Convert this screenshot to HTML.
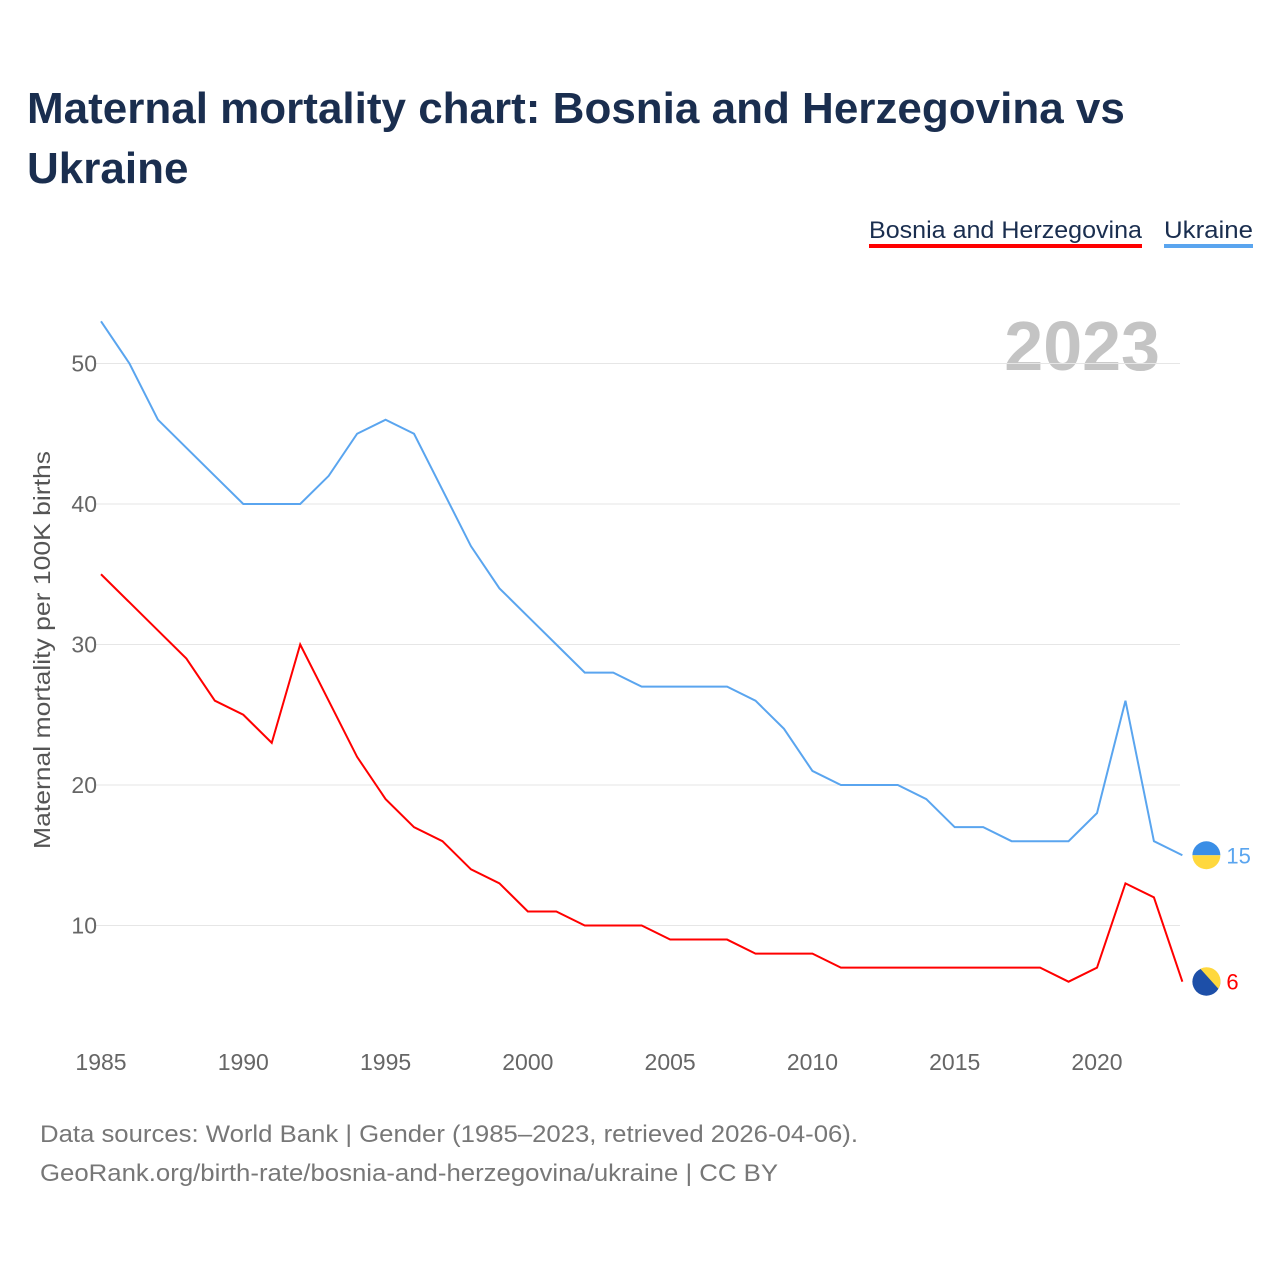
<!DOCTYPE html>
<html><head><meta charset="utf-8"><style>
body{margin:0;background:#fff;font-family:"Liberation Sans",sans-serif;}
</style></head><body>
<svg id="c" width="1280" height="1280" xmlns="http://www.w3.org/2000/svg">
<text x="27" y="123" font-size="44" font-weight="bold" fill="#1a2e4f">Maternal mortality chart: Bosnia and Herzegovina vs</text>
<text x="27" y="183" font-size="44" font-weight="bold" fill="#1a2e4f">Ukraine</text>
<g><text x="869" y="238" font-size="24" fill="#1a2e4f" textLength="273" lengthAdjust="spacingAndGlyphs">Bosnia and Herzegovina</text><rect x="869" y="244" width="273" height="4" fill="#ff0000"/></g>
<g><text x="1164" y="238" font-size="24" fill="#1a2e4f" textLength="89" lengthAdjust="spacingAndGlyphs">Ukraine</text><rect x="1164" y="244" width="89" height="4" fill="#5aa5ef"/></g>
<text x="1160" y="370" font-size="70" font-weight="bold" fill="#c4c4c4" text-anchor="end">2023</text>
<text transform="translate(50,650) rotate(-90)" font-size="23" fill="#555" text-anchor="middle" textLength="398" lengthAdjust="spacingAndGlyphs">Maternal mortality per 100K births</text>
<g id="grid"></g><g id="series"></g>
<text x="40" y="1142" font-size="24" fill="#777" textLength="818" lengthAdjust="spacingAndGlyphs">Data sources: World Bank | Gender (1985–2023, retrieved 2026-04-06).</text>
<text x="40" y="1181" font-size="24" fill="#777" textLength="738" lengthAdjust="spacingAndGlyphs">GeoRank.org/birth-rate/bosnia-and-herzegovina/ukraine | CC BY</text>
</svg>
<script>
const years=[];for(let y=1985;y<=2023;y++)years.push(y);
const ukraine=[53,50,46,44,42,40,40,40,42,45,46,45,41,37,34,32,30,28,28,27,27,27,27,26,24,21,20,20,20,19,17,17,16,16,16,18,26,16,15];
const bosnia=[35,33,31,29,26,25,23,30,26,22,19,17,16,14,13,11,11,10,10,10,9,9,9,8,8,8,7,7,7,7,7,7,7,7,6,7,13,12,6];
const yTicks=[10,20,30,40,50];
const xTicks=[1985,1990,1995,2000,2005,2010,2015,2020];
const NS="http://www.w3.org/2000/svg";
const X=y=>101+(y-1985)*(1097-101)/35;
const Y=v=>1066-v*14.05;
const g=document.getElementById('grid'),s=document.getElementById('series');
function mk(t,a,p){const e=document.createElementNS(NS,t);for(const k in a)e.setAttribute(k,a[k]);p.appendChild(e);return e;}
yTicks.forEach(v=>{
 const l=mk('line',{x1:95,x2:1180,y1:Y(v),y2:Y(v),stroke:'#e6e6e6','stroke-width':1},g);
 
 
 const t=mk('text',{x:97,y:Y(v)+8,'font-size':23,fill:'#666','text-anchor':'end'},g);t.textContent=v;
 
 
});
xTicks.forEach(v=>{
 const t=mk('text',{x:X(v),y:1070,'font-size':23,fill:'#666','text-anchor':'middle'},g);t.textContent=v;
 
 
});
function line(data,color,name){
 const p=mk('polyline',{points:data.map((v,i)=>X(years[i])+','+Y(v)).join(' '),fill:'none',stroke:color,'stroke-width':2},s);
 
 
 const last=data[data.length-1],cx=X(2023)+24,cy=Y(last);
 const t=mk('text',{x:cx+20,y:cy+8,'font-size':22,fill:color},s);t.textContent=last;
 
 
 return [cx,cy];
}
let [ux,uy]=line(ukraine,'#5aa5ef','ukraine');
let [bx,by]=line(bosnia,'#ff0000','bosnia');
const uf=mk('g',{},s);


mk('path',{d:`M${ux-14},${uy} A14,14 0 0 1 ${ux+14},${uy} Z`,fill:'#3a8ee6'},uf);
mk('path',{d:`M${ux-14},${uy} A14,14 0 0 0 ${ux+14},${uy} Z`,fill:'#ffd83d'},uf);
const bf=mk('g',{},s);


mk('circle',{cx:bx,cy:by,r:14,fill:'#1d4fa8'},bf);
mk('path',{d:`M${bx-6},${by-13} L${bx+12},${by+7} A14,14 0 0 0 ${bx-6},${by-13} Z`,fill:'#ffd83d'},bf);
</script>
</body></html>
